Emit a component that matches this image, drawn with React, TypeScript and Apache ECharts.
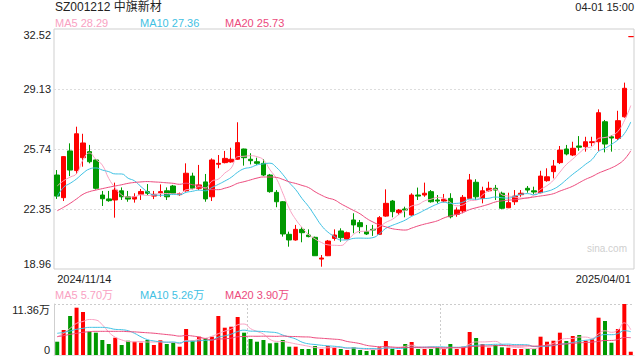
import React, { useEffect, useRef } from "react";
import * as echarts from "echarts";

// ---------- data ----------
const dates: string[] = [
  "2024/11/14", "2024/11/15", "2024/11/18", "2024/11/19", "2024/11/20", "2024/11/21", "2024/11/22",
  "2024/11/25", "2024/11/26", "2024/11/27", "2024/11/28", "2024/11/29",
  "2024/12/02", "2024/12/03", "2024/12/04", "2024/12/05", "2024/12/06",
  "2024/12/09", "2024/12/10", "2024/12/11", "2024/12/12", "2024/12/13",
  "2024/12/16", "2024/12/17", "2024/12/18", "2024/12/19", "2024/12/20",
  "2024/12/23", "2024/12/24", "2024/12/25", "2024/12/26", "2024/12/27",
  "2025/01/02", "2025/01/03", "2025/01/06", "2025/01/07", "2025/01/08", "2025/01/09", "2025/01/10",
  "2025/01/13", "2025/01/14", "2025/01/15", "2025/01/16", "2025/01/17",
  "2025/01/20", "2025/01/21", "2025/01/22", "2025/01/23", "2025/01/24", "2025/01/27",
  "2025/02/05", "2025/02/06", "2025/02/07",
  "2025/02/10", "2025/02/11", "2025/02/12", "2025/02/13", "2025/02/14",
  "2025/02/17", "2025/02/18", "2025/02/19", "2025/02/20", "2025/02/21",
  "2025/02/24", "2025/02/25", "2025/02/26", "2025/02/27", "2025/02/28",
  "2025/03/03", "2025/03/04", "2025/03/05", "2025/03/06", "2025/03/07",
  "2025/03/10", "2025/03/11", "2025/03/12", "2025/03/13", "2025/03/14",
  "2025/03/17", "2025/03/18", "2025/03/19", "2025/03/20", "2025/03/21",
  "2025/03/24", "2025/03/25", "2025/03/26", "2025/03/27", "2025/03/28",
  "2025/03/31", "2025/04/01",
];

// [open, close, low, high]
const ohlc: number[][] = [
  [24.27, 23.08, 22.92, 24.55], [22.99, 25.31, 22.80, 25.34], [25.63, 24.55, 24.21, 26.06],
  [24.52, 26.60, 24.33, 27.00], [25.25, 26.08, 24.74, 26.60], [25.59, 25.02, 24.93, 25.97],
  [25.12, 23.52, 23.45, 25.15], [23.14, 22.93, 22.52, 23.37], [22.92, 22.82, 22.76, 23.37],
  [22.86, 23.42, 21.86, 23.84], [23.38, 23.04, 22.86, 23.57], [23.04, 22.91, 22.76, 23.37],
  [22.91, 23.04, 22.71, 23.24], [23.18, 23.34, 22.86, 23.48], [23.33, 23.24, 23.14, 23.76],
  [23.08, 23.18, 22.91, 23.37], [23.27, 23.33, 23.04, 23.74], [23.38, 23.04, 22.86, 23.57],
  [23.65, 23.24, 23.18, 23.71], [23.16, 23.22, 23.10, 23.28], [23.38, 24.37, 23.33, 24.93],
  [24.21, 23.52, 23.46, 24.40], [23.52, 23.71, 23.42, 24.84], [23.88, 22.92, 22.76, 24.33],
  [23.04, 25.12, 22.80, 25.21], [24.88, 24.93, 24.65, 25.40], [24.97, 25.21, 24.93, 25.63],
  [25.01, 25.16, 24.97, 25.81], [25.16, 26.10, 25.12, 27.25], [25.74, 25.25, 24.80, 25.76],
  [25.16, 25.08, 24.87, 25.50], [25.02, 24.93, 24.84, 25.25], [24.93, 24.27, 24.21, 25.16],
  [24.27, 23.33, 23.27, 24.33], [23.29, 22.76, 22.45, 23.42], [22.76, 20.94, 20.79, 22.80],
  [20.92, 20.60, 20.22, 21.07], [20.60, 21.20, 20.56, 21.45], [21.20, 21.01, 20.47, 21.32],
  [20.88, 20.79, 20.75, 21.20], [20.75, 19.71, 19.71, 20.79], [19.52, 19.58, 19.09, 19.75],
  [19.71, 20.54, 19.69, 20.60], [20.69, 20.88, 20.56, 21.20], [21.11, 20.73, 20.50, 21.26],
  [20.65, 21.01, 20.64, 21.07], [21.73, 21.45, 20.98, 22.11], [21.58, 21.35, 20.98, 21.73],
  [21.07, 20.94, 20.88, 21.45], [21.20, 21.16, 20.83, 21.45], [20.92, 21.86, 20.88, 21.95],
  [21.95, 22.67, 21.91, 23.46], [22.80, 22.20, 21.88, 22.86], [22.14, 22.29, 22.01, 22.35],
  [22.35, 22.29, 21.88, 22.48], [22.01, 23.14, 21.97, 23.24], [23.14, 23.08, 22.86, 23.56],
  [23.14, 23.24, 23.04, 23.84], [23.33, 22.76, 22.71, 23.42], [22.86, 22.80, 22.67, 23.14],
  [22.80, 22.90, 22.73, 23.20], [22.95, 21.91, 21.82, 23.24], [22.05, 22.29, 21.91, 22.44],
  [22.24, 23.01, 22.11, 23.14], [22.95, 23.99, 22.92, 24.33], [23.86, 23.04, 22.86, 24.03],
  [22.95, 23.38, 22.67, 23.61], [23.38, 23.52, 23.33, 23.89], [23.52, 23.42, 22.86, 23.71],
  [23.24, 22.39, 22.33, 23.33], [22.42, 22.71, 22.40, 23.27], [22.76, 23.08, 22.58, 23.42],
  [23.16, 23.24, 23.04, 23.42], [23.52, 23.42, 23.27, 23.65], [23.38, 23.31, 23.20, 23.61],
  [23.27, 24.21, 23.24, 24.51], [23.95, 24.17, 23.89, 24.65], [24.46, 24.78, 24.08, 25.12],
  [24.97, 25.68, 24.89, 25.91], [25.74, 25.46, 25.38, 25.97], [25.40, 25.78, 25.34, 26.15],
  [25.91, 25.84, 25.64, 26.47], [25.87, 26.15, 25.59, 26.43], [26.10, 26.15, 25.91, 26.43],
  [26.15, 27.79, 25.64, 27.98], [27.28, 26.02, 25.55, 27.38], [26.43, 26.36, 25.59, 26.53],
  [26.34, 27.34, 26.25, 27.90], [27.56, 29.17, 27.51, 29.49], [32.09, 32.09, 32.09, 32.09],
];

// volume, in 万
const volumes: number[] = [
  2.96, 5.57, 8.69, 10.54, 9.58, 5.19, 4.97, 3.34, 2.45, 3.85,
  2.23, 3.18, 2.96, 2.74, 3.34, 2.23, 3.27, 2.45, 2.74, 1.85,
  5.79, 3.18, 4.08, 3.72, 4.08, 8.69, 6.08, 6.30, 8.46, 4.97,
  3.56, 2.96, 3.34, 2.60, 2.74, 3.34, 1.85, 1.85, 1.34, 1.34,
  2.00, 1.34, 2.00, 1.63, 1.34, 1.11, 1.71, 1.11, 0.89, 1.11,
  1.71, 3.12, 1.34, 1.11, 2.45, 2.90, 1.34, 1.34, 1.34, 1.63,
  1.34, 2.45, 1.34, 1.85, 5.12, 3.79, 2.45, 1.63, 2.23, 1.71,
  1.63, 1.34, 1.34, 1.34, 1.34, 4.08, 2.96, 3.18, 4.97, 3.12,
  4.23, 4.45, 3.18, 3.49, 8.31, 7.57, 2.74, 5.79, 11.36, 0.73,
];

// moving-average values before a full window is available
const ma5Lead = [23.65, 23.95, 24.15, 24.35];
const ma10Lead = [23.05, 23.58, 23.8, 24.05, 24.37, 24.61, 24.67, 24.55, 24.46];
const ma20Lead = [22.25, 22.45, 22.67, 22.92, 23.18, 23.33, 23.42, 23.5, 23.58, 23.65,
  23.72, 23.8, 23.85, 23.88, 23.9, 23.88, 23.86, 23.83, 23.8];
const vma5Lead = [4.08, 4.83, 5.94, 7.05];
const vma10Lead = [4.83, 5.05, 5.34, 5.72, 5.94, 6.16, 6.16, 6.16, 6.01];
const vma20Lead = [4.08, 4.31, 4.6, 4.83, 5.05, 5.2, 5.27, 5.27, 5.27, 5.27,
  5.27, 5.2, 5.15, 5.05, 4.95, 4.85, 4.7, 4.55, 4.4];

const priceTicks = ["18.96", "22.35", "25.74", "29.13", "32.52"];
const priceMin = 18.96;
const priceMax = 32.52;
const volMax = 11.36;

const titleText = "SZ001212 中旗新材";
const timeText = "04-01 15:00";
const priceLegend = [["MA5", "28.29"], ["MA10", "27.36"], ["MA20", "25.73"]];
const volLegend = [["MA5", "5.70万"], ["MA10", "5.26万"], ["MA20", "3.90万"]];

// ---------- helpers ----------
function movingAverage(values: number[], n: number, lead: number[]) {
  return values.map((_, i) => {
    if (i < n - 1) return lead[i];
    let s = 0;
    for (let k = i - n + 1; k <= i; k++) s += values[k];
    return +(s / n).toFixed(3);
  });
}

const FONT = '"Liberation Sans", Arial, "Noto Sans CJK SC", sans-serif';
const RED = "#ff0000";
const GREEN = "#009900";
const C5 = "#f9a1c2";
const C10 = "#3fc1e3";
const C20 = "#ec4a7d";
const TXT = "#222";

export default function App() {
  const ref = useRef<HTMLDivElement>(null);
  useEffect(() => {
    if (!ref.current) return;
    const chart = echarts.init(ref.current, null, { renderer: "svg" });
    const closes = ohlc.map((d) => d[1]);
    const ma5 = movingAverage(closes, 5, ma5Lead);
    const ma10 = movingAverage(closes, 10, ma10Lead);
    const ma20 = movingAverage(closes, 20, ma20Lead);
    const vma5 = movingAverage(volumes, 5, vma5Lead);
    const vma10 = movingAverage(volumes, 10, vma10Lead);
    const vma20 = movingAverage(volumes, 20, vma20Lead);
    const last = dates.length - 1;
    const legendX = [55, 140, 225];
    const legendColors = [C5, C10, C20];

    const graphic: any[] = [
      { type: "text", x: 55, y: 7, style: { text: titleText, fill: TXT, fontSize: 12, fontFamily: FONT, verticalAlign: "middle" } },
      { type: "text", x: 634, y: 7, style: { text: timeText, fill: TXT, fontSize: 11, fontFamily: FONT, verticalAlign: "middle", align: "right" } },
      { type: "text", x: 627, y: 248, style: { text: "sina.com", fill: "#cfcfcf", fontSize: 10, fontFamily: FONT, verticalAlign: "middle", align: "right" } },
    ];
    priceLegend.forEach((p, i) => {
      graphic.push({ type: "text", x: legendX[i], y: 23, style: { text: p[0] + " " + p[1], fill: legendColors[i], fontSize: 11, fontFamily: FONT, verticalAlign: "middle" } });
    });
    volLegend.forEach((p, i) => {
      graphic.push({ type: "text", x: legendX[i], y: 295, style: { text: p[0] + " " + p[1], fill: legendColors[i], fontSize: 11, fontFamily: FONT, verticalAlign: "middle" } });
    });

    const lineS = (name: string, data: number[], color: string, xi: number, yi: number) => ({
      type: "line", name, data, xAxisIndex: xi, yAxisIndex: yi, symbol: "none", smooth: true,
      lineStyle: { width: 1, color }, z: 5, silent: true,
    });

    chart.setOption({
      animation: false,
      backgroundColor: "#ffffff",
      textStyle: { fontFamily: FONT },
      grid: [
        { left: 54, top: 29, width: 580, height: 240, show: true, borderColor: "#cfcfcf", borderWidth: 1, backgroundColor: "transparent" },
        { left: 54, top: 304, width: 580, height: 51 },
      ],
      xAxis: [
        {
          type: "category", gridIndex: 0, data: dates, boundaryGap: true,
          axisLine: { show: false }, axisTick: { show: false }, splitLine: { show: false },
          axisLabel: {
            show: true, interval: (i: number) => i === 0 || i === last, color: TXT, fontSize: 11, margin: 4,
            alignMinLabel: "left", alignMaxLabel: "right",
          },
        },
        {
          type: "category", gridIndex: 1, data: dates, boundaryGap: true,
          axisLine: { show: true, lineStyle: { color: "#e3e3e3" } }, axisTick: { show: false }, axisLabel: { show: false },
          splitLine: { show: false },
        },
        {
          type: "category", gridIndex: 1, data: ["", "", "", ""], boundaryGap: false, position: "top",
          axisLine: { show: false }, axisTick: { show: false }, axisLabel: { show: false },
          splitLine: { show: true, interval: (i: number) => i === 1 || i === 2, lineStyle: { color: "#cccccc", type: [2, 2] } },
        },
      ],
      yAxis: [
        { type: "value", gridIndex: 0, min: priceMin, max: priceMax, show: false, splitLine: { show: false }, position: "left" },
        {
          type: "category", gridIndex: 0, data: priceTicks, boundaryGap: false, position: "left",
          axisLine: { show: false }, axisTick: { show: false },
          axisLabel: { color: TXT, fontSize: 11, margin: 3, verticalAlignMinLabel: "bottom", verticalAlignMaxLabel: "top" },
          splitLine: { show: true, interval: (i: number) => i > 0 && i < priceTicks.length - 1, lineStyle: { color: "#dddddd", type: [2, 2] } },
        },
        {
          type: "value", gridIndex: 1, min: 0, max: volMax, interval: volMax, position: "left",
          axisLine: { show: true, lineStyle: { color: "#cfcfcf" } }, axisTick: { show: false },
          axisLabel: {
            color: TXT, fontSize: 11, margin: 4,
            formatter: (v: number) => (v === 0 ? "0" : v.toFixed(2) + "万"),
            verticalAlignMinLabel: "bottom", verticalAlignMaxLabel: "top",
          },
          splitLine: { show: true, lineStyle: { color: "#cccccc", type: [2, 2] } },
        },
      ],
      series: [
        {
          type: "candlestick", xAxisIndex: 0, yAxisIndex: 0, data: ohlc, barWidth: 5, silent: true,
          itemStyle: { color: RED, color0: GREEN, borderColor: RED, borderColor0: GREEN, borderColorDoji: RED, borderWidth: 1 },
        },
        lineS("MA5", ma5, C5, 0, 0),
        lineS("MA10", ma10, C10, 0, 0),
        lineS("MA20", ma20, C20, 0, 0),
        {
          type: "bar", xAxisIndex: 1, yAxisIndex: 2, barWidth: 4, silent: true,
          data: volumes.map((v, i) => ({ value: v, itemStyle: { color: ohlc[i][1] >= ohlc[i][0] ? RED : GREEN } })),
        },
        lineS("VMA5", vma5, C5, 1, 2),
        lineS("VMA10", vma10, C10, 1, 2),
        lineS("VMA20", vma20, C20, 1, 2),
      ],
      graphic,
    });
    return () => chart.dispose();
  }, []);
  return <div ref={ref} style={{ position: "absolute", left: 0, top: 0, width: 640, height: 360 }} />;
}
